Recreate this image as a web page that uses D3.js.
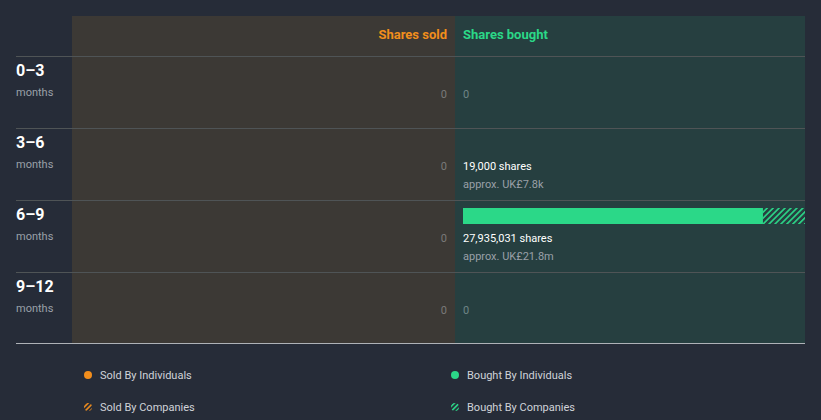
<!DOCTYPE html>
<html><head><meta charset="utf-8">
<script src="https://cdn.jsdelivr.net/npm/d3@7"></script>
<style>
body{margin:0;background:#262c38;}
svg{display:block;font-family:Roboto,"Noto Sans",sans-serif;}
</style></head><body>
<svg id="c" width="821" height="420"></svg>
<script>
const periods = ["0–3","3–6","6–9","9–12"];
const soldIndividuals = [0,0,0,0];
const soldCompanies = [0,0,0,0];
const boughtIndividuals = [0,19000,24500000,0];
const boughtCompanies = [0,0,3435031,0];
const boughtValue = [null,"UK£7.8k","UK£21.8m",null];
const legendItems = ["Sold By Individuals","Bought By Individuals","Sold By Companies","Bought By Companies"];

(function(){
const svg = d3.select("#c");
const colSold="#f28e1c", colBought="#2bd888";
const defs = svg.append("defs");
function hatch(id,color,size,w){
  const p=defs.append("pattern").attr("id",id).attr("patternUnits","userSpaceOnUse")
    .attr("width",size).attr("height",size).attr("patternTransform","rotate(45)");
  p.append("rect").attr("width",w).attr("height",size).attr("fill",color);
}
hatch("hb",colBought,4.2,1.6);
hatch("hs",colSold,3.5,1.6);
hatch("hb2",colBought,3.5,1.6);

const pLeft=16, sx0=72, mid=455, pRight=805, pTop=16, pBottom=343;
const y = d3.scaleBand().domain(periods).range([56,344]);
svg.append("rect").attr("x",sx0).attr("y",pTop).attr("width",mid-sx0).attr("height",pBottom-pTop).attr("fill","#3c3935");
svg.append("rect").attr("x",mid).attr("y",pTop).attr("width",pRight-mid).attr("height",pBottom-pTop).attr("fill","#263f40");

const totals = boughtIndividuals.map((d,i)=>d+boughtCompanies[i]);
const soldTotals = soldIndividuals.map((d,i)=>d+soldCompanies[i]);
const maxV = d3.max(totals.concat(soldTotals));
const xb = d3.scaleLinear().domain([0,maxV]).range([mid+8,pRight]);

svg.append("text").attr("x",mid-8).attr("y",39).attr("text-anchor","end").attr("fill",colSold)
  .attr("font-size",13).attr("font-weight","bold").text("Shares sold");
svg.append("text").attr("x",mid+8).attr("y",39).attr("fill",colBought)
  .attr("font-size",13).attr("font-weight","bold").text("Shares bought");

periods.forEach((p,i)=>{
  svg.append("line").attr("x1",pLeft).attr("x2",pRight).attr("y1",y(p)+0.5).attr("y2",y(p)+0.5)
    .attr("stroke","#4f5456").attr("stroke-width",1);
});
svg.append("line").attr("x1",pLeft).attr("x2",pRight).attr("y1",pBottom+0.5).attr("y2",pBottom+0.5)
  .attr("stroke","#aeb2b7").attr("stroke-width",1);

const fmt = d3.format(",");
periods.forEach((p,i)=>{
  const y0=y(p);
  svg.append("text").attr("x",pLeft).attr("y",y0+20).attr("fill","#ffffff").attr("font-size",16)
    .attr("font-weight","bold").text(p);
  svg.append("text").attr("x",pLeft).attr("y",y0+40).attr("fill","#9aa0a8").attr("font-size",11).text("months");
  if(soldTotals[i]===0){
    svg.append("text").attr("x",mid-8).attr("y",y0+42).attr("text-anchor","end").attr("fill","#7a7a7a")
      .attr("font-size",11).text("0");
  }
  if(totals[i]===0){
    svg.append("text").attr("x",mid+8).attr("y",y0+42).attr("fill","#6f8586")
      .attr("font-size",11).text("0");
  } else {
    const bw = xb(boughtIndividuals[i])-xb(0);
    if(bw>=1){
      svg.append("rect").attr("x",xb(0)).attr("y",y0+8).attr("width",bw).attr("height",16).attr("fill",colBought);
      svg.append("rect").attr("x",xb(boughtIndividuals[i])).attr("y",y0+8)
        .attr("width",xb(totals[i])-xb(boughtIndividuals[i])).attr("height",16).attr("fill","url(#hb)");
    }
    svg.append("text").attr("x",mid+8).attr("y",y0+42).attr("fill","#ffffff").attr("font-size",11)
      .text(fmt(totals[i])+" shares");
    svg.append("text").attr("x",mid+8).attr("y",y0+60).attr("fill","#9aa0a8").attr("font-size",11)
      .text("approx. "+boughtValue[i]);
  }
});

const lx=[88,455], ly=[375,407];
legendItems.forEach((t,i)=>{
  const cx=lx[i%2], cy=ly[Math.floor(i/2)];
  const col = i%2===0?colSold:colBought;
  svg.append("circle").attr("cx",cx).attr("cy",cy).attr("r",4)
    .attr("fill", i<2 ? col : "url(#"+(i%2===0?"hs":"hb2")+")");
  svg.append("text").attr("x",cx+12).attr("y",cy+4).attr("fill","#d0d3d8").attr("font-size",11).text(t);
});
})();
</script></body></html>
